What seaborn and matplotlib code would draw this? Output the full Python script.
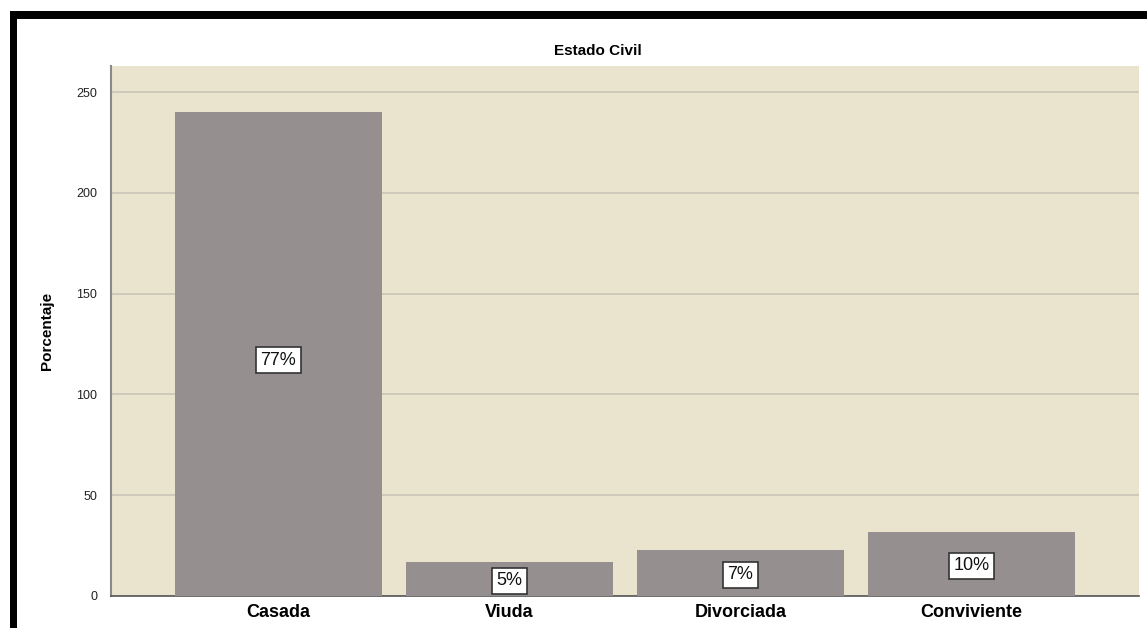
import matplotlib
matplotlib.use("Agg")
import matplotlib.pyplot as plt
import seaborn as sns
import pandas as pd
from matplotlib.patches import Rectangle

# Data
categories = ["Casada", "Viuda", "Divorciada", "Conviviente"]
counts = [240, 17, 23, 32]
pct_labels = ["77%", "5%", "7%", "10%"]
y_ticks = [0, 50, 100, 150, 200, 250]

sns.set_style("white")
plt.rcParams["font.family"] = ["Liberation Sans", "DejaVu Sans"]
plt.rcParams["text.color"] = "black"
plt.rcParams["axes.labelcolor"] = "black"
plt.rcParams["xtick.color"] = "black"
plt.rcParams["ytick.color"] = "black"

df = pd.DataFrame({"estado": categories, "n": counts})

W, H = 1147, 628
fig = plt.figure(figsize=(W / 100, H / 100), dpi=100)
ax = fig.add_axes([111 / W, 1 - 596 / H, (1139 - 111) / W, (596 - 66) / H])
ax.set_facecolor("#EAE3CE")

sns.barplot(data=df, x="estado", y="n", color="#958F8F", saturation=1,
            width=0.9, ax=ax, zorder=3)
for p in ax.patches:
    p.set_edgecolor("none")

ax.set_xlim(-0.725, 3.725)
ax.set_ylim(0, 263)
ax.set_yticks(y_ticks)
ax.yaxis.grid(True, color="#C9C4B6", linewidth=1.2, zorder=1)
ax.set_axisbelow(True)

for i, (v, lab) in enumerate(zip(counts, pct_labels)):
    ax.text(i, v / 2 - 3 if v > 100 else v / 2 - 1, lab, ha="center", va="center",
            fontsize=13, zorder=5, color="#111111",
            bbox=dict(boxstyle="square,pad=0.25", facecolor="white",
                      edgecolor="#333333", linewidth=1.2))

for s in ["top", "right"]:
    ax.spines[s].set_visible(False)
ax.spines["left"].set_color("#8A8A8A")
ax.spines["left"].set_linewidth(1.5)
ax.spines["bottom"].set_color("#555555")
ax.spines["bottom"].set_linewidth(1.2)

ax.tick_params(axis="y", length=0, labelsize=9, pad=10, labelcolor="#222222")
ax.tick_params(axis="x", length=0, labelsize=13, pad=6)
for t in ax.get_xticklabels():
    t.set_fontweight("bold")

ax.set_xlabel("")
ax.set_ylabel("Porcentaje", fontsize=11, fontweight="bold", labelpad=16)

fig.text(598 / W, 1 - 51 / H, "Estado Civil", ha="center", va="center",
         fontsize=11, fontweight="bold")

# black frame on top and left (cropped screenshot border)
fig.add_artist(Rectangle((10 / W, 1 - 19 / H), 1 - 10 / W, 8 / H,
                         transform=fig.transFigure, color="black", lw=0))
fig.add_artist(Rectangle((10 / W, 0), 7 / W, 1 - 11 / H,
                         transform=fig.transFigure, color="black", lw=0))

fig.savefig("out.png", dpi=100)
